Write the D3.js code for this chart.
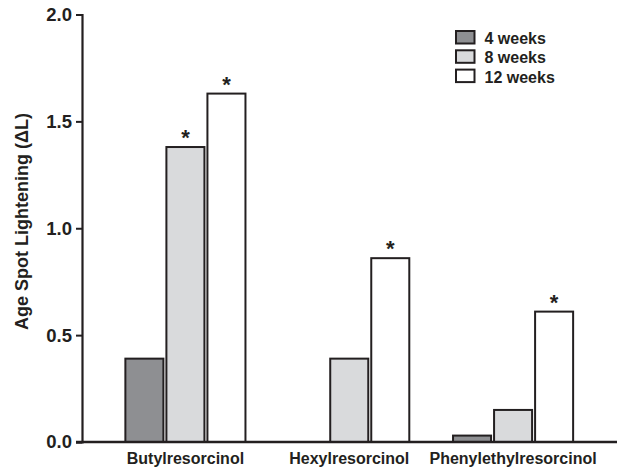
<!DOCTYPE html>
<html><head><meta charset="utf-8">
<script src="https://cdn.jsdelivr.net/npm/d3@7"></script>
<style>body{margin:0;background:#fff}svg{display:block}text{font-family:"Liberation Sans",Arial,sans-serif;font-weight:bold;fill:#231f20}</style>
</head><body><svg id="c" width="617" height="473"></svg>
<script>
const categories = ["Butylresorcinol", "Hexylresorcinol", "Phenylethylresorcinol"];
const seriesNames = ["4 weeks", "8 weeks", "12 weeks"];
const week4 = [0.39, 0, 0.03];
const week8 = [1.38, 0.39, 0.15];
const week12 = [1.63, 0.86, 0.61];
const significant4 = [false, false, false];
const significant8 = [true, false, false];
const significant12 = [true, true, true];
const yTicks = [0, 0.5, 1.0, 1.5, 2.0];
const yLabel = "Age Spot Lightening (\u0394L)";

const values = [week4, week8, week12];
const sig = [significant4, significant8, significant12];
const fills = ["#8e8f92", "#d9dadc", "#ffffff"];
const ink = "#231f20";
const FONT = "Liberation Sans, Arial, sans-serif";

const svg = d3.select("#c");
const y = d3.scaleLinear().domain([0, 2]).range([442, 14.5]);
const x0 = d3.scaleBand().domain(categories).range([103.5, 595]).paddingInner(0.267).paddingOuter(0.1335);
const x1 = d3.scaleBand().domain(seriesNames).range([0, x0.bandwidth()]).paddingInner(0.073);

const rows = [];
categories.forEach((c, i) => seriesNames.forEach((s, j) => rows.push({c, s, j, v: values[j][i], star: sig[j][i]})));

const g = svg.append("g");
g.selectAll("rect.bar").data(rows.filter(d => d.v > 0)).join("rect")
  .attr("class", "bar")
  .attr("x", d => x0(d.c) + x1(d.s))
  .attr("width", x1.bandwidth())
  .attr("y", d => y(d.v))
  .attr("height", d => y(0) - y(d.v))
  .attr("fill", d => fills[d.j])
  .attr("stroke", ink).attr("stroke-width", 2);

g.selectAll("text.star").data(rows.filter(d => d.star)).join("text")
  .attr("class", "star")
  .attr("x", d => x0(d.c) + x1(d.s) + x1.bandwidth() / 2)
  .attr("y", d => y(d.v) - 2)
  .attr("text-anchor", "middle")
  .attr("font-size", 22)
  .text("*");

// y axis
const yAxis = g.append("g").attr("transform", "translate(82,0)")
  .call(d3.axisLeft(y).tickValues(yTicks).tickFormat(d3.format(".1f")).tickSize(6).tickPadding(4));
yAxis.select(".domain").attr("stroke", ink).attr("stroke-width", 2.2);
yAxis.selectAll(".tick line").attr("stroke", ink).attr("stroke-width", 2);
yAxis.selectAll(".tick text").attr("font-size", 18.5).attr("font-family", FONT).attr("font-weight", "bold").attr("fill", ink);

// x axis baseline
const xAxis = g.append("g").attr("transform", "translate(0,442)")
  .call(d3.axisBottom(x0).tickSize(0).tickPadding(10.5));
xAxis.select(".domain").attr("d", "M76,0H617").attr("stroke", ink).attr("stroke-width", 2.6);
xAxis.selectAll(".tick text").attr("font-size", 16).attr("font-family", FONT).attr("font-weight", "bold").attr("fill", ink);

// y label
svg.append("text")
  .attr("transform", "translate(27.5,221.5) rotate(-90)")
  .attr("text-anchor", "middle")
  .attr("font-size", 18)
  .text(yLabel);

// legend
const leg = svg.append("g").attr("transform", "translate(456,31)");
const li = leg.selectAll("g").data(seriesNames).join("g").attr("transform", (d, i) => `translate(0,${i * 19.3})`);
li.append("rect").attr("width", 18.5).attr("height", 12.5)
  .attr("fill", (d, i) => fills[i]).attr("stroke", ink).attr("stroke-width", 2);
li.append("text").attr("x", 28.5).attr("y", 13).attr("font-size", 16).text(d => d);
</script></body></html>
